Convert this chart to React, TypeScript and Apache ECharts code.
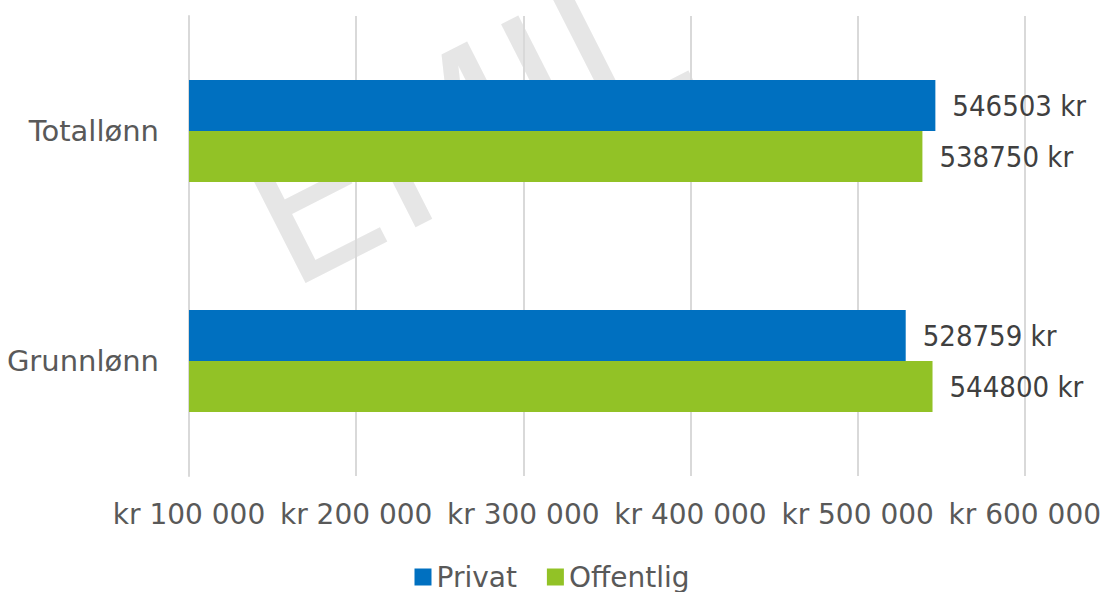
import React, { useEffect, useRef } from "react";
import * as echarts from "echarts";

const categories = ["Grunnlønn", "Totallønn"];
const privat = [528759, 546503];
const offentlig = [544800, 538750];
const seriesNames = ["Privat", "Offentlig"];
const xTicks = [100000, 200000, 300000, 400000, 500000, 600000];

const FONT = "'DejaVu Sans', sans-serif";
const FONT_C = "'DejaVu Sans Condensed', 'DejaVu Sans', sans-serif";

function fmtTick(v: number): string {
  const s = String(Math.round(v)).replace(/\B(?=(\d{3})+(?!\d))/g, " ");
  return "kr " + s;
}

export default function App() {
  const ref = useRef<HTMLDivElement>(null);
  useEffect(() => {
    if (!ref.current) return;
    const chart = echarts.init(ref.current, undefined, { renderer: "svg" });
    const label = {
      show: true,
      position: "right" as const,
      distance: 17,
      color: "#404040",
      fontSize: 29,
      fontFamily: FONT_C,
      formatter: (p: any) => p.value + " kr",
    };
    chart.setOption({
      animation: false,
      backgroundColor: "#ffffff",
      graphic: [
        {
          type: "text",
          z: -10,
          silent: true,
          x: 462,
          y: 128,
          rotation: 0.47,
          style: {
            text: "EMIL",
            fontSize: 195,
            fontFamily: "'DejaVu Sans', sans-serif",
            fill: "#e6e6e6",
            align: "center",
            verticalAlign: "middle",
          },
        },
      ],
      grid: { left: 189, right: 79, top: 16, bottom: 116 },
      legend: {
        top: 558,
        left: "center",
        itemWidth: 17,
        itemHeight: 17,
        itemGap: 30,
        icon: "rect",
        textStyle: { fontSize: 28, color: "#595959", fontFamily: FONT },
        data: seriesNames,
      },
      xAxis: {
        type: "value",
        min: xTicks[0],
        max: xTicks[xTicks.length - 1],
        interval: 100000,
        axisLine: { show: false },
        axisTick: { show: false },
        splitLine: { show: true, lineStyle: { color: "#d9d9d9", width: 2 } },
        axisLabel: {
          margin: 24,
          fontSize: 28,
          color: "#595959",
          fontFamily: FONT,
          formatter: fmtTick,
        },
      },
      yAxis: {
        type: "category",
        data: categories,
        axisLine: { show: true, lineStyle: { color: "#d9d9d9", width: 2 } },
        axisTick: { show: false },
        axisLabel: {
          margin: 30,
          fontSize: 29,
          color: "#595959",
          fontFamily: FONT,
        },
      },
      series: [
        {
          name: seriesNames[0],
          type: "bar",
          data: privat,
          barWidth: 51,
          barGap: "0%",
          itemStyle: { color: "#0070C0" },
          label,
          z: 3,
        },
        {
          name: seriesNames[1],
          type: "bar",
          data: offentlig,
          barWidth: 51,
          barGap: "0%",
          itemStyle: { color: "#92C226" },
          label,
          z: 3,
        },
      ],
    });
    return () => chart.dispose();
  }, []);
  return (
    <div
      ref={ref}
      style={{ position: "fixed", left: 0, top: 0, width: 1104, height: 592 }}
    />
  );
}
